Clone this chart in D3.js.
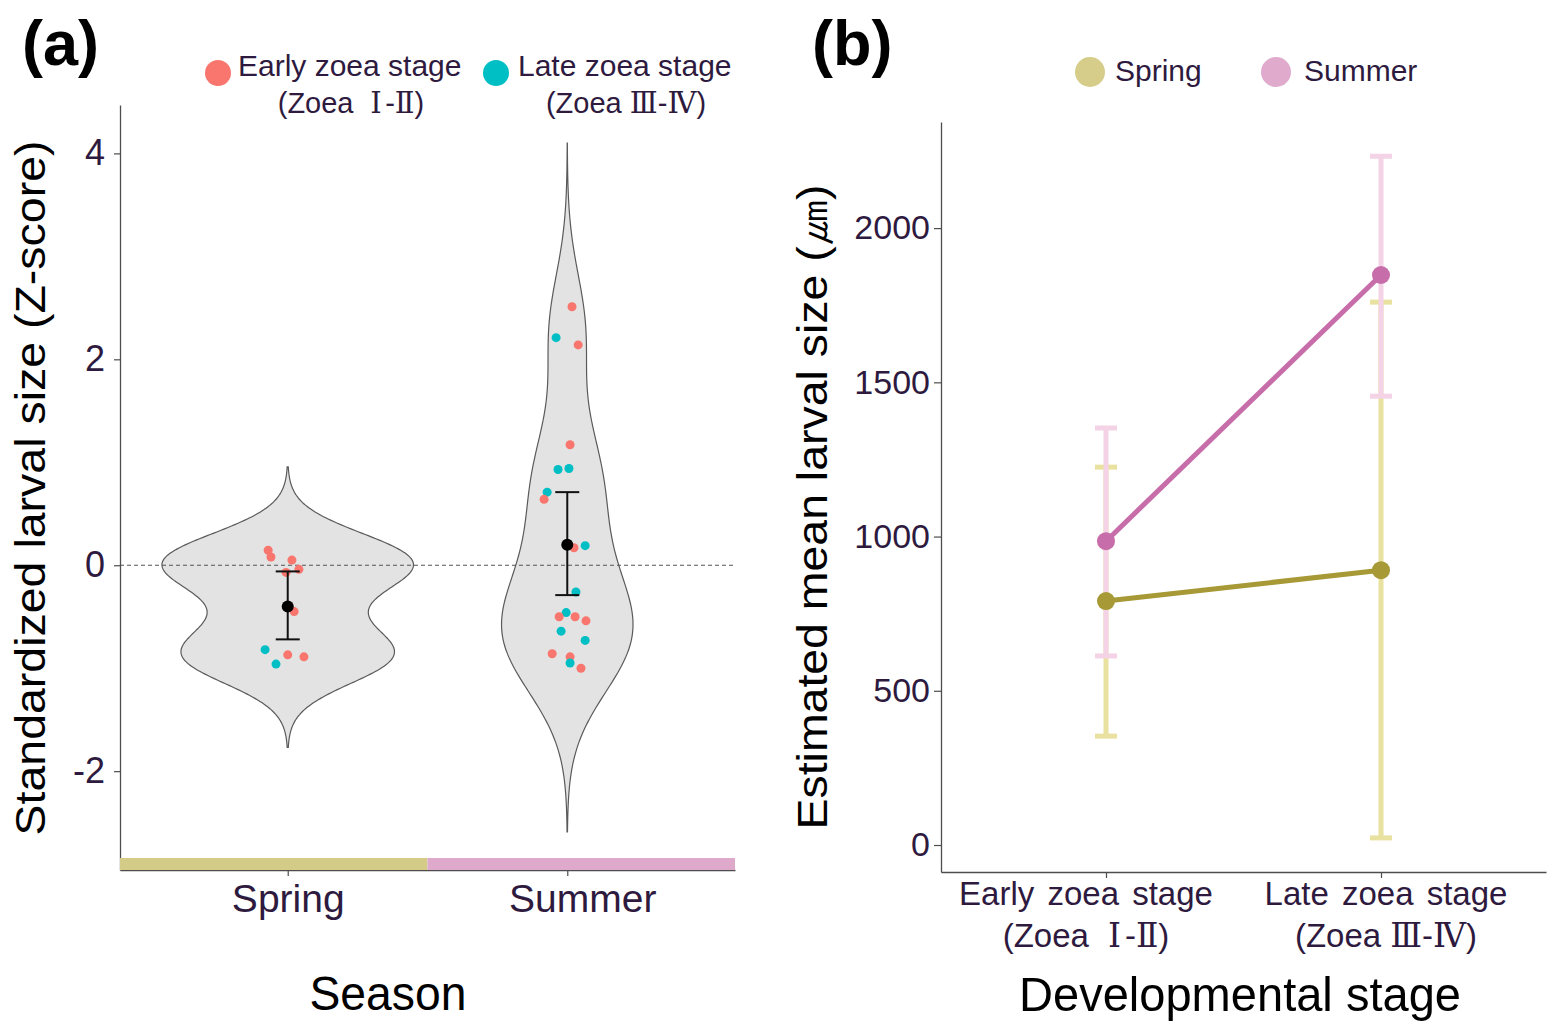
<!DOCTYPE html>
<html>
<head>
<meta charset="utf-8">
<script src="https://cdn.jsdelivr.net/npm/d3@7"></script>
<style>
  body { margin: 0; background: #fff; }
  text { font-family: "Liberation Sans", Arial, "DejaVu Sans", sans-serif; }
</style>
</head>
<body>
<div id="chart"></div>
<script>
// ---------------- data, panel (a) ----------------
var seasons = ["Spring", "Summer"];
var stageLabels = ["Early zoea stage", "Late zoea stage"];
var stageSubLabels = ["(Zoea \u2160-\u2161)", "(Zoea \u2162-\u2163)"];

// z-scores, stage (0 = early, 1 = late) and jittered category position
var springZ     = [0.146, 0.08, 0.05, -0.04, -0.07, -0.45, -0.87, -0.89, -0.82, -0.96];
var springStage = [0, 0, 0, 0, 0, 0, 0, 0, 1, 1];
var springPos   = [0.93, 0.94, 1.015, 1.04, 0.994, 1.023, 1.0, 1.058, 0.919, 0.958];

var summerZ     = [2.51, 2.21, 2.14, 1.17, 0.93, 0.94, 0.71, 0.64, 0.17, 0.19, -0.26,
                   -0.46, -0.50, -0.50, -0.54, -0.64, -0.73, -0.86, -0.89, -0.95, -1.00];
var summerStage = [0, 1, 0, 0, 1, 1, 1, 0, 0, 1, 1, 1, 0, 0, 0, 1, 1, 0, 0, 1, 0];
var summerPos   = [2.017, 1.960, 2.039, 2.010, 1.967, 2.006, 1.928, 1.917, 2.024, 2.064, 2.031,
                   1.996, 1.971, 2.028, 2.067, 1.978, 2.064, 1.946, 2.010, 2.010, 2.049];

var seasonMean  = [-0.40, 0.20];
var seasonLow   = [-0.72, -0.29];
var seasonHigh  = [-0.06, 0.71];
var kdeBandwidth = [0.27, 0.53];
var zTicks = [-2, 0, 2, 4];

// ---------------- data, panel (b) ----------------
var seriesNames = ["Spring", "Summer"];
var springMean = [791, 891];
var springLow  = [353, 23];
var springHigh = [1225, 1760];
var summerMean = [985, 1848];
var summerLow  = [613, 1455];
var summerHigh = [1352, 2233];
var sizeTicks = [0, 500, 1000, 1500, 2000];

// ---------------- colours ----------------
var stageColor = ["#F8766D", "#00BFC4"];
var seasonStrip = ["#D4CB87", "#DEA9CB"];
var lineColor = ["#A69936", "#C76DA9"];
var errColor = ["#E9E19F", "#F3D3E5"];
var legendColor = ["#D5CD89", "#DFAACC"];
var tickText = "#2E1A3E";

var svg = d3.select("#chart").append("svg")
    .attr("width", 1555)
    .attr("height", 1030);

function styleAxis(g, size) {
    g.select(".domain").attr("stroke", "#4d4d4d").attr("stroke-width", 1.3);
    g.selectAll(".tick line").attr("stroke", "#4d4d4d").attr("stroke-width", 1.2);
    g.selectAll(".tick text").attr("fill", tickText).attr("font-size", size).style("font-family", null);
}

// writes "(Zoea I-II)" with the roman numerals in a serif face
// (the narrow I-II run is spaced out like the full-width glyphs of the original)
function subLabel(t, s) {
    s.split(/([\u2160-\u2163]+)/).forEach(function (part) {
        if (!part) return;
        var sp = t.append("tspan").text(part);
        if (/[\u2160-\u2163]/.test(part)) {
            sp.style("font-family", "'DejaVu Serif', serif");
            if (part.charAt(0) === "\u2160") {
                sp.attr("dx", "0.3em").style("letter-spacing", "0.12em");
            }
        }
    });
}

// =============== panel (a) ===============
var xa = d3.scaleLinear().domain([0.4, 2.6]).range([120, 735]);
var ya = d3.scaleLinear().domain([-2.96, 4.47]).range([870, 105]);

var points = [];
springZ.forEach(function (z, i) { points.push({ x: springPos[i], z: z, s: springStage[i] }); });
summerZ.forEach(function (z, i) { points.push({ x: summerPos[i], z: z, s: summerStage[i] }); });

// gaussian kernel density, extended 3 bandwidths like ggplot's violin
function kde(values, bw) {
    var lo = d3.min(values) - 3 * bw, hi = d3.max(values) + 3 * bw;
    return d3.range(200).map(function (i) {
        var t = lo + (hi - lo) * i / 199;
        var dens = d3.mean(values, function (v) {
            var u = (t - v) / bw;
            return Math.exp(-0.5 * u * u) / Math.sqrt(2 * Math.PI);
        }) / bw;
        return [t, dens];
    });
}
var dens = [kde(springZ, kdeBandwidth[0]), kde(summerZ, kdeBandwidth[1])];
var maxDens = d3.max(dens, function (d) { return d3.max(d, function (p) { return p[1]; }); });
var halfW = d3.scaleLinear().domain([0, maxDens]).range([0, xa(1.45) - xa(1)]);

var ga = svg.append("g");

// violins
dens.forEach(function (d, i) {
    var cx = xa(i + 1);
    var area = d3.area()
        .y(function (p) { return ya(p[0]); })
        .x0(function (p) { return cx - halfW(p[1]); })
        .x1(function (p) { return cx + halfW(p[1]); })
        .curve(d3.curveBasis);
    ga.append("path").attr("d", area(d))
        .attr("fill", "#E3E3E3").attr("stroke", "#5a5a5a").attr("stroke-width", 1.2);
});

// zero reference line
ga.append("line")
    .attr("x1", xa.range()[0]).attr("x2", xa.range()[1])
    .attr("y1", ya(0)).attr("y2", ya(0))
    .attr("stroke", "#555").attr("stroke-width", 1.2).attr("stroke-dasharray", "4,3");

// jittered points
ga.selectAll(".pt").data(points).enter().append("circle")
    .attr("class", "pt")
    .attr("cx", function (d) { return xa(d.x); })
    .attr("cy", function (d) { return ya(d.z); })
    .attr("r", 4.5)
    .attr("fill", function (d) { return stageColor[d.s]; });

// mean +/- error
seasons.forEach(function (s, i) {
    var cx = xa(i + 1);
    ga.append("line").attr("x1", cx).attr("x2", cx)
        .attr("y1", ya(seasonLow[i])).attr("y2", ya(seasonHigh[i]))
        .attr("stroke", "#111").attr("stroke-width", 2);
    [seasonLow[i], seasonHigh[i]].forEach(function (v) {
        ga.append("line").attr("x1", cx - 12).attr("x2", cx + 12)
            .attr("y1", ya(v)).attr("y2", ya(v))
            .attr("stroke", "#111").attr("stroke-width", 2);
    });
    ga.append("circle").attr("cx", cx).attr("cy", ya(seasonMean[i])).attr("r", 6).attr("fill", "#000");
});

// axes
var axYa = ga.append("g").attr("transform", "translate(" + xa.range()[0] + ",0)")
    .call(d3.axisLeft(ya).tickValues(zTicks).tickFormat(function (d) { return String(d); })
        .tickSize(6).tickSizeOuter(0).tickPadding(9));
styleAxis(axYa, 36);

var axXa = ga.append("g").attr("transform", "translate(0," + ya.range()[0] + ")")
    .call(d3.axisBottom(xa).tickValues([1, 2]).tickFormat(function (d) { return seasons[d - 1]; })
        .tickSize(6).tickSizeOuter(0).tickPadding(8));
styleAxis(axXa, 39);
// the Summer label sits a little right of its tick in the original
axXa.selectAll(".tick text").attr("dx", function (d, i) { return i === 1 ? 15 : 0; });

// season strip along the x axis
var stripBounds = [[xa.domain()[0], 1.5], [1.5, xa.domain()[1]]];
ga.selectAll(".strip").data(stripBounds).enter().append("rect")
    .attr("x", function (d) { return xa(d[0]); })
    .attr("width", function (d) { return xa(d[1]) - xa(d[0]); })
    .attr("y", ya.range()[0] - 12)
    .attr("height", 12)
    .attr("fill", function (d, i) { return seasonStrip[i]; });

// titles
ga.append("text").attr("x", 22).attr("y", 65)
    .attr("font-size", 63).attr("font-weight", "bold").text("(a)");

ga.append("text")
    .attr("transform", "translate(45,488) rotate(-90)")
    .attr("text-anchor", "middle").attr("font-size", 42)
    .attr("textLength", 695).attr("lengthAdjust", "spacingAndGlyphs")
    .text("Standardized larval size (Z-score)");

ga.append("text").attr("x", 388).attr("y", 1010)
    .attr("text-anchor", "middle").attr("font-size", 49)
    .attr("textLength", 157).attr("lengthAdjust", "spacingAndGlyphs")
    .text("Season");

// legend (a)
var legA = [{ x: 218, tx: 238, sub: 351 }, { x: 496, tx: 518, sub: 626 }];
legA.forEach(function (l, i) {
    ga.append("circle").attr("cx", l.x).attr("cy", 73).attr("r", 13).attr("fill", stageColor[i]);
    ga.append("text").attr("x", l.tx).attr("y", 76).attr("font-size", 30).attr("fill", tickText)
        .text(stageLabels[i]);
    var t = ga.append("text").attr("x", l.sub).attr("y", 113).attr("font-size", 29).attr("fill", tickText)
        .attr("text-anchor", "middle");
    subLabel(t, stageSubLabels[i]);
});

// =============== panel (b) ===============
var xb = d3.scalePoint().domain(stageLabels).range([941, 1546]).padding(0.6);
var yb = d3.scaleLinear().domain([-87.5, 2344]).range([872, 122]);

var gb = svg.append("g");

var series = [
    { mean: springMean, low: springLow, high: springHigh },
    { mean: summerMean, low: summerLow, high: summerHigh }
];

// error bars
series.forEach(function (s, k) {
    stageLabels.forEach(function (st, i) {
        var cx = xb(st);
        gb.append("line").attr("x1", cx).attr("x2", cx)
            .attr("y1", yb(s.low[i])).attr("y2", yb(s.high[i]))
            .attr("stroke", errColor[k]).attr("stroke-width", 5);
        [s.low[i], s.high[i]].forEach(function (v) {
            gb.append("line").attr("x1", cx - 11).attr("x2", cx + 11)
                .attr("y1", yb(v)).attr("y2", yb(v))
                .attr("stroke", errColor[k]).attr("stroke-width", 5);
        });
    });
});

// lines and points
var line = d3.line()
    .x(function (d, i) { return xb(stageLabels[i]); })
    .y(function (d) { return yb(d); });
series.forEach(function (s, k) {
    gb.append("path").attr("d", line(s.mean))
        .attr("fill", "none").attr("stroke", lineColor[k]).attr("stroke-width", 5);
    gb.selectAll(".p" + k).data(s.mean).enter().append("circle")
        .attr("cx", function (d, i) { return xb(stageLabels[i]); })
        .attr("cy", function (d) { return yb(d); })
        .attr("r", 9).attr("fill", lineColor[k]);
});

// axes
var axYb = gb.append("g").attr("transform", "translate(" + xb.range()[0] + ",0)")
    .call(d3.axisLeft(yb).tickValues(sizeTicks).tickFormat(d3.format("d"))
        .tickSize(7).tickSizeOuter(0).tickPadding(4));
styleAxis(axYb, 34);

var axXb = gb.append("g").attr("transform", "translate(0," + yb.range()[0] + ")")
    .call(d3.axisBottom(xb).tickSize(6).tickSizeOuter(0).tickFormat(""));
styleAxis(axXb, 34);

// two-line stage labels, nudged as in the original
var stageShift = [-20, 5];
stageLabels.forEach(function (st, i) {
    gb.append("text").attr("x", xb(st) + stageShift[i]).attr("y", 905)
        .attr("text-anchor", "middle").attr("font-size", 33).attr("fill", tickText)
        .attr("word-spacing", 4).text(st);
    var t = gb.append("text").attr("x", xb(st) + stageShift[i]).attr("y", 947)
        .attr("text-anchor", "middle").attr("font-size", 33).attr("fill", tickText);
    subLabel(t, stageSubLabels[i]);
});

// titles
gb.append("text").attr("x", 812).attr("y", 65)
    .attr("font-size", 63).attr("font-weight", "bold").text("(b)");

gb.append("text")
    .attr("transform", "translate(827,507) rotate(-90)")
    .attr("text-anchor", "middle").attr("font-size", 43)
    .attr("textLength", 645).attr("lengthAdjust", "spacingAndGlyphs")
    .text("Estimated mean larval size (\u339B)");

gb.append("text").attr("x", 1240).attr("y", 1011)
    .attr("text-anchor", "middle").attr("font-size", 49)
    .attr("textLength", 442).attr("lengthAdjust", "spacingAndGlyphs")
    .text("Developmental stage");

// legend (b)
var legB = [{ x: 1090, tx: 1115 }, { x: 1276, tx: 1304 }];
legB.forEach(function (l, i) {
    gb.append("circle").attr("cx", l.x).attr("cy", 72).attr("r", 15).attr("fill", legendColor[i]);
    gb.append("text").attr("x", l.tx).attr("y", 81).attr("font-size", 30).attr("fill", tickText)
        .text(seriesNames[i]);
});
</script>
</body>
</html>
